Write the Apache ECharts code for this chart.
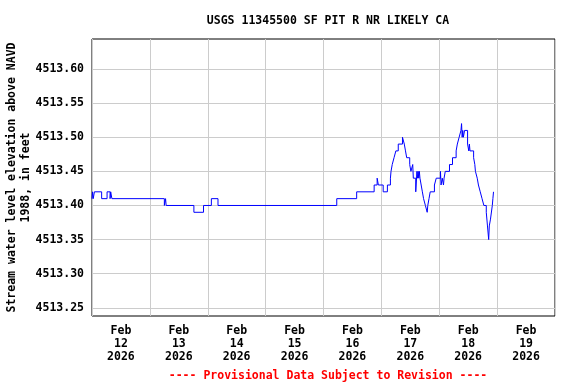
<!DOCTYPE html>
<html>
<head>
<meta charset="utf-8">
<script src="https://cdn.jsdelivr.net/npm/echarts@6/dist/echarts.min.js"></script>
<style>html,body{margin:0;padding:0;background:#fff}#c{width:576px;height:384px}</style>
</head>
<body>
<div id="c"></div>
<script>
const titleText = 'USGS 11345500 SF PIT R NR LIKELY CA';
const yAxisTitle = 'Stream water level elevation above NAVD\n1988, in feet';
const footnote = '---- Provisional Data Subject to Revision ----';
const yTicks = [4513.25, 4513.30, 4513.35, 4513.40, 4513.45, 4513.50, 4513.55, 4513.60];
const xDays = ['2026-02-12','2026-02-13','2026-02-14','2026-02-15','2026-02-16','2026-02-17','2026-02-18','2026-02-19'];
const times = [
'2026-02-12 00:00','2026-02-12 00:15','2026-02-12 00:30','2026-02-12 01:00','2026-02-12 04:00','2026-02-12 06:15','2026-02-12 07:30','2026-02-12 07:45','2026-02-12 08:15',
'2026-02-13 06:00','2026-02-13 06:30','2026-02-13 06:45','2026-02-13 18:15','2026-02-13 22:15',
'2026-02-14 01:30','2026-02-14 04:15',
'2026-02-16 05:30','2026-02-16 13:45','2026-02-16 21:00','2026-02-16 22:15','2026-02-16 22:45',
'2026-02-17 00:45','2026-02-17 02:30','2026-02-17 03:45','2026-02-17 04:00','2026-02-17 04:30','2026-02-17 05:15','2026-02-17 06:00','2026-02-17 07:00','2026-02-17 08:45','2026-02-17 09:30','2026-02-17 10:00','2026-02-17 10:30','2026-02-17 11:45','2026-02-17 12:15','2026-02-17 13:00','2026-02-17 13:15','2026-02-17 14:15','2026-02-17 14:45','2026-02-17 15:00','2026-02-17 15:15','2026-02-17 15:30','2026-02-17 15:45','2026-02-17 16:00','2026-02-17 16:30','2026-02-17 17:00','2026-02-17 17:30','2026-02-17 18:15','2026-02-17 19:00','2026-02-17 19:15','2026-02-17 19:45','2026-02-17 20:15','2026-02-17 22:00','2026-02-17 22:45',
'2026-02-18 00:30','2026-02-18 00:45','2026-02-18 01:15','2026-02-18 01:45','2026-02-18 02:00','2026-02-18 02:30','2026-02-18 04:15','2026-02-18 05:30','2026-02-18 07:00','2026-02-18 07:30','2026-02-18 08:15','2026-02-18 09:00','2026-02-18 09:15','2026-02-18 09:30','2026-02-18 09:45','2026-02-18 10:00','2026-02-18 10:30','2026-02-18 11:45','2026-02-18 12:15','2026-02-18 12:30','2026-02-18 12:45','2026-02-18 14:15','2026-02-18 14:45','2026-02-18 15:00','2026-02-18 15:45','2026-02-18 16:15','2026-02-18 17:00','2026-02-18 17:45','2026-02-18 18:30','2026-02-18 19:30','2026-02-18 20:00','2026-02-18 20:30','2026-02-18 20:45','2026-02-18 21:15','2026-02-18 22:00','2026-02-18 22:15','2026-02-18 22:30','2026-02-18 22:45'
];
const levels = [
4513.41,4513.42,4513.41,4513.42,4513.41,4513.42,4513.41,4513.42,4513.41,
4513.40,4513.41,4513.40,4513.39,4513.40,
4513.41,4513.40,
4513.41,4513.42,4513.43,4513.44,4513.43,
4513.42,4513.43,4513.44,4513.45,4513.46,4513.47,4513.48,4513.49,4513.50,4513.49,4513.48,4513.47,4513.46,4513.45,4513.46,4513.44,4513.42,4513.45,4513.44,4513.45,4513.44,4513.45,4513.44,4513.43,4513.42,4513.41,4513.40,4513.39,4513.40,4513.41,4513.42,4513.43,4513.44,
4513.45,4513.43,4513.44,4513.43,4513.44,4513.45,4513.46,4513.47,4513.48,4513.49,4513.50,4513.51,4513.52,4513.50,4513.51,4513.50,4513.51,4513.49,4513.48,4513.49,4513.48,4513.47,4513.46,4513.45,4513.44,4513.43,4513.42,4513.41,4513.40,4513.39,4513.37,4513.35,4513.37,4513.38,4513.40,4513.41,4513.42,4513.42
];
const MON = ['Jan','Feb','Mar','Apr','May','Jun','Jul','Aug','Sep','Oct','Nov','Dec'];
const toMs = s => Date.parse(s.replace(' ', 'T') + (s.length > 10 ? ':00Z' : 'T00:00:00Z'));
const DAY = 86400000;
const xMin = toMs(xDays[0]);
const xMax = toMs(xDays[xDays.length - 1]) + DAY;
const labelVals = xDays.map(d => toMs(d) + DAY / 2);
const font = 'DejaVu Sans Mono';

const chart = echarts.init(document.getElementById('c'), null, {renderer: 'canvas'});
chart.setOption({
  animation: false,
  backgroundColor: '#fff',
  title: [
    {text: titleText, left: 323, top: 10, textAlign: 'center',
     textStyle: {fontFamily: font, fontSize: 11.5, fontWeight: 'bold', color: '#000'}},
    {text: footnote, left: 323, top: 365, textAlign: 'center',
     textStyle: {fontFamily: font, fontSize: 11.5, fontWeight: 'bold', color: '#ff0000'}}
  ],
  grid: {left: 92, top: 39, width: 463, height: 277, containLabel: false, outerBoundsMode: 'none',
    show: true, borderColor: '#000', borderWidth: 1, backgroundColor: 'transparent'},
  xAxis: {
    type: 'value', min: xMin, max: xMax, interval: DAY,
    axisLine: {show: false}, axisTick: {show: false},
    splitLine: {show: true, lineStyle: {color: '#cccccc', width: 1}},
    axisLabel: {
      customValues: labelVals, margin: 9, lineHeight: 13,
      fontFamily: font, fontSize: 11.5, fontWeight: 'bold', color: '#000',
      formatter: v => { const d = new Date(v); return MON[d.getUTCMonth()] + '\n' + d.getUTCDate() + '\n' + d.getUTCFullYear(); }
    }
  },
  yAxis: {
    type: 'value', min: 4513.238, max: 4513.644,
    name: yAxisTitle, nameLocation: 'middle', nameRotate: 90, nameGap: 59, nameMoveOverlap: false,
    nameTextStyle: {fontFamily: font, fontSize: 11.5, fontWeight: 'bold', color: '#000', lineHeight: 14},
    axisLine: {show: false},
    axisTick: {show: false, customValues: yTicks},
    splitLine: {show: true, lineStyle: {color: '#cccccc', width: 1}},
    axisLabel: {customValues: yTicks, margin: 8, fontFamily: font, fontSize: 11.5, fontWeight: 'bold', color: '#000',
      formatter: v => v.toFixed(2)}
  },
  series: [{
    type: 'line', step: 'end', showSymbol: false, symbol: 'none',
    lineStyle: {color: '#0000ff', width: 1},
    data: times.map((t, i) => [toMs(t), levels[i]])
  }]
});
</script>
</body>
</html>
